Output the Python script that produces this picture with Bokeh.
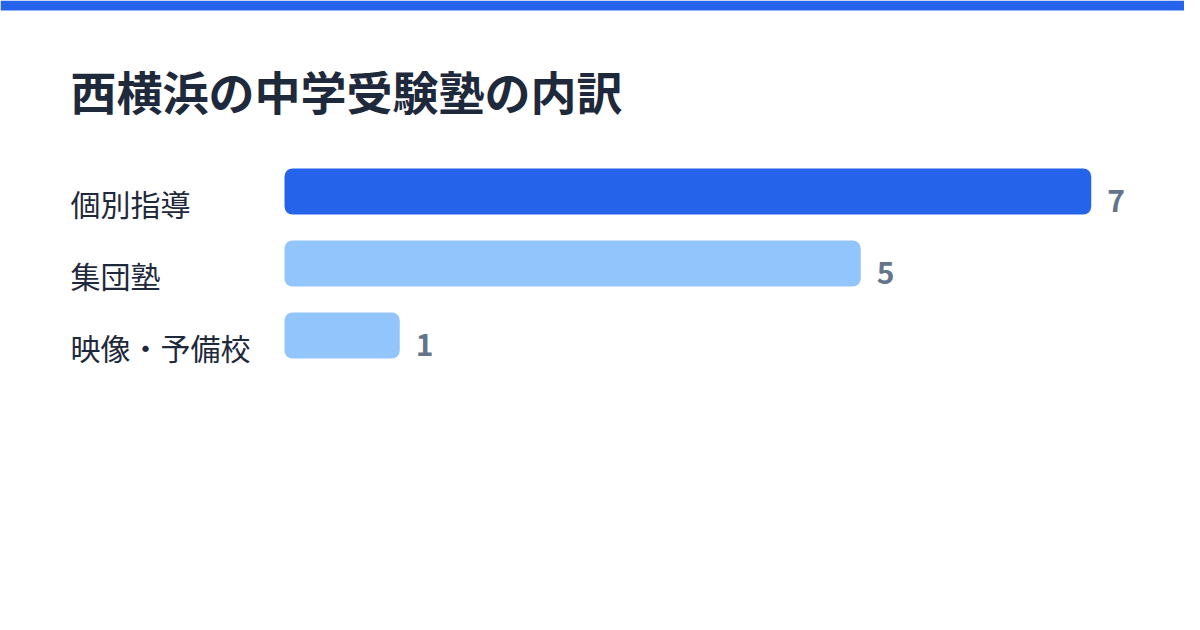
from bokeh.plotting import figure
from bokeh.models import ColumnDataSource, Range1d, Label, BoxAnnotation
from bokeh.core.properties import value
from bokeh.embed import file_html
from bokeh.resources import INLINE

# ---- data ----
title_text = "西横浜の中学受験塾の内訳"
categories = ["個別指導", "集団塾", "映像・予備校"]
counts = [7, 5, 1]

# ---- style ----
FONT = "Noto Sans CJK JP"
ACCENT = "#2563eb"
LIGHT = "#93c5fd"
DARK = "#1e293b"
GREY = "#64748b"

W, H = 1184, 614
px_per_unit = 115.25       # horizontal scale
zero_px = 284              # screen x of value 0
row_px = 72                # row pitch
first_row_px = 191         # screen y (from top) of first bar centre

x_start = -zero_px / px_per_unit
x_end = x_start + W / px_per_unit
y_top = -first_row_px / row_px
y_bottom = y_top + H / row_px

max_v = max(counts)
src = ColumnDataSource(dict(
    y=list(range(len(categories))),
    cat=categories,
    v=counts,
    vtxt=[str(c) for c in counts],
    color=[ACCENT if c == max_v else LIGHT for c in counts],
))

p = figure(width=W, height=H, output_backend="svg", toolbar_location=None,
           x_range=Range1d(x_start, x_end), y_range=Range1d(y_bottom, y_top),
           min_border=0, outline_line_color=None, background_fill_color="white",
           border_fill_color="white")
p.axis.visible = False
p.grid.visible = False

# top accent strip
p.add_layout(BoxAnnotation(top=H, bottom=H - 10, top_units="screen", bottom_units="screen",
                           left=0, right=W, left_units="screen", right_units="screen",
                           fill_color=ACCENT, fill_alpha=1, line_color=None))

# title
p.add_layout(Label(x=70, y=H - 89, x_units="screen", y_units="screen", text=title_text,
                   text_font=FONT, text_font_size="46px", text_font_style="bold",
                   text_color=DARK, text_baseline="alphabetic", text_align="left"))

# bars
p.hbar(y="y", left=0, right="v", height=46 / row_px, color="color", source=src,
       border_radius=8, line_color=None)

# category labels
p.text(x=0, y="y", text="cat", source=src, x_offset=70 - zero_px, y_offset=11,
       text_font=value(FONT), text_font_size="30px", text_color=DARK,
       text_baseline="alphabetic", text_align="left")

# value labels
p.text(x="v", y="y", text="vtxt", source=src, x_offset=16, y_offset=9,
       text_font=value(FONT), text_font_size="30px", text_font_style="bold",
       text_color=GREY, text_baseline="alphabetic", text_align="left")

open("out.html", "w").write(file_html(p, INLINE))
